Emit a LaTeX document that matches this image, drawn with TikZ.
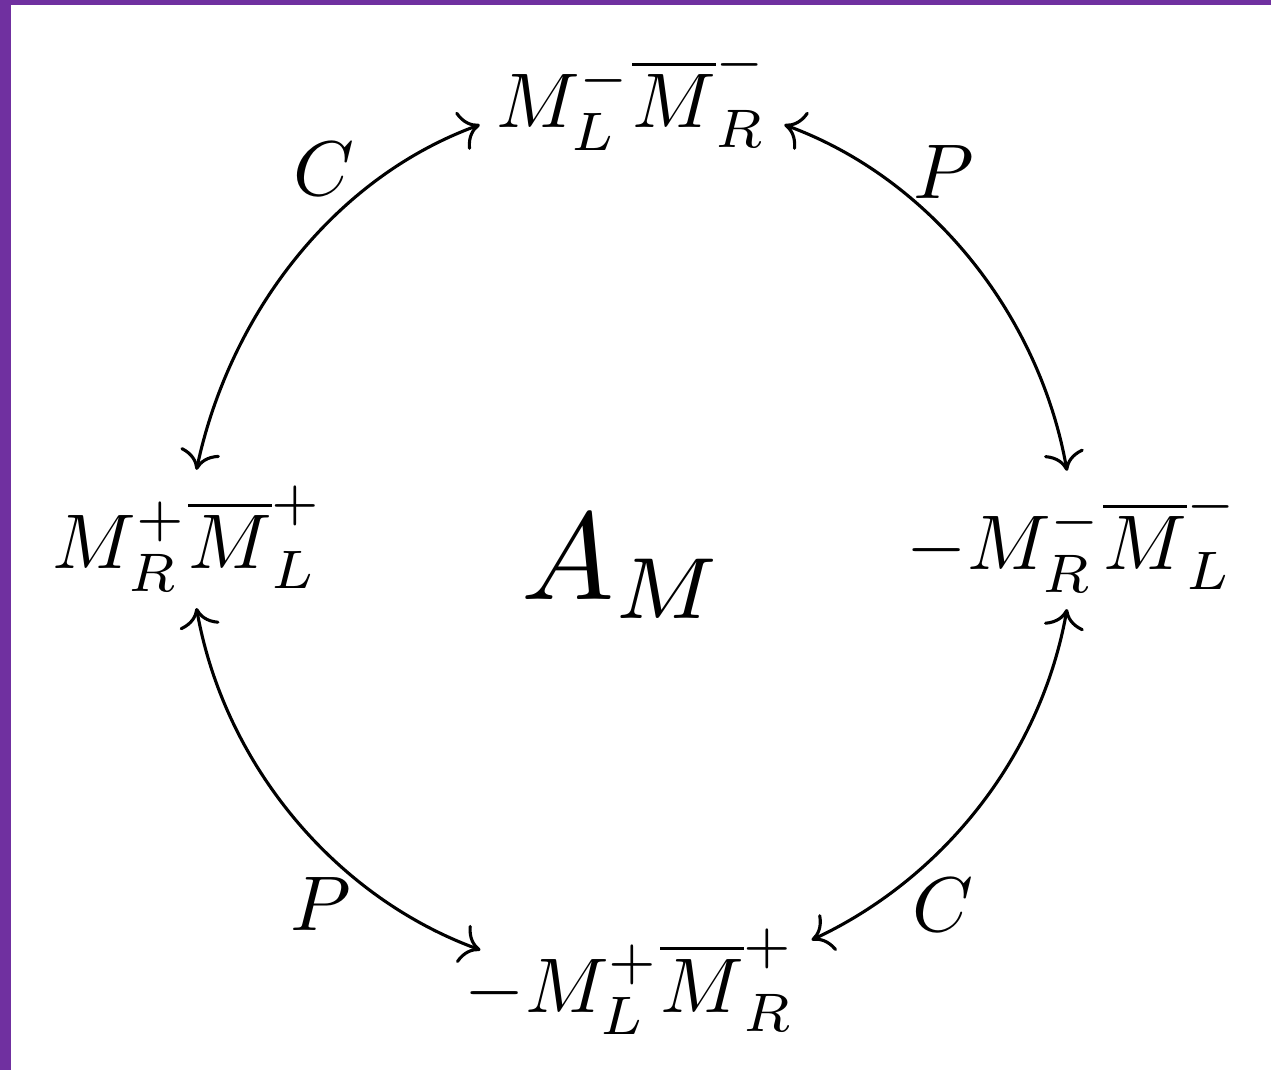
\documentclass[tikz,border=0pt]{standalone}
\usepackage{amsmath}
\usepackage{amssymb}
\usepackage{xcolor}
\usepackage{tikz}
\usetikzlibrary{
	arrows.meta,
	calc
}
\definecolor{FramePurple}{RGB}{112,48,160}

\begin{document}
\begin{tikzpicture}[x=0.129pt, y=0.129pt,
		state/.style={anchor=base, inner sep=1.9pt},
		lab/.style={inner sep=0pt},
		conn/.style={<->, looseness=0.9}]
		\useasboundingbox (0,0) rectangle (1271,1070);
		
		% Rahmen links und oben
		\fill[FramePurple] (0,0) rectangle (11,1070);
		\fill[FramePurple] (0,1065) rectangle (1271,1070);
		
		% die vier Zustaende
		\node[state] (top) at (632,942) {$M_L^-\overline{M}_R^-$};
		\node[state] (left) at (188,501) {$M_R^+\overline{M}_L^+$};
		\node[state] (right) at (1073,500) {$-M_R^-\overline{M}_L^-$};
		\node[state] (bottom) at (630,58) {$-M_L^+\overline{M}_R^+$};
		
		\node[anchor=base, scale=1.6] (amp) at (623,470) {$A_M$};
		
		% C und P
		\draw[conn] (left.83) to[out=78, in=200]
			node[lab, pos=.69, anchor=south east] {$C$} (top.190);
		\draw[conn] (top.350) to[out=-20, in=100]
			node[lab, pos=.32, anchor=south west] {$P$} (right.95);
		\draw[conn] (right.265) to[out=260, in=25]
			node[lab, pos=.73, anchor=north west] {$C$} (bottom.13);
		\draw[conn] ([shift={(32,-10)}]bottom.167) to[out=160, in=280]
			node[lab, pos=.32, anchor=north east] {$P$} (left.277);
	\end{tikzpicture}
\end{document}
